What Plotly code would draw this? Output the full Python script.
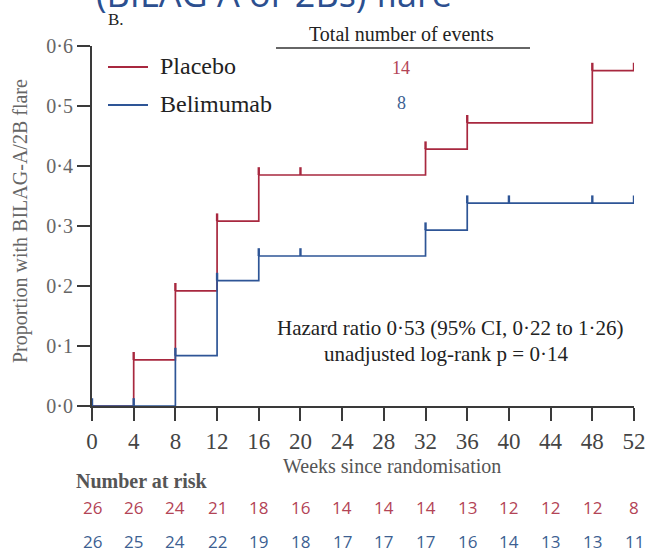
import plotly.graph_objects as go

# ---- data ----
weeks_ticks = [0, 4, 8, 12, 16, 20, 24, 28, 32, 36, 40, 44, 48, 52]

placebo_step_x = [0, 4, 8, 12, 16, 32, 36, 48, 52]
placebo_step_y = [0.0, 0.077, 0.192, 0.308, 0.385, 0.428, 0.472, 0.559, 0.559]
placebo_cens_x = [4, 8, 12, 16, 20, 32, 36, 48, 52]
placebo_cens_y = [0.077, 0.192, 0.308, 0.385, 0.385, 0.428, 0.472, 0.559, 0.559]

belim_step_x = [0, 8, 12, 16, 32, 36, 52]
belim_step_y = [0.0, 0.084, 0.209, 0.25, 0.293, 0.338, 0.338]
belim_cens_x = [0, 4, 8, 12, 16, 20, 32, 36, 40, 48, 52]
belim_cens_y = [0.0, 0.0, 0.084, 0.209, 0.25, 0.25, 0.293, 0.338, 0.338, 0.338, 0.338]

risk_placebo = [26, 26, 24, 21, 18, 16, 14, 14, 14, 13, 12, 12, 12, 8]
risk_belim = [26, 25, 24, 22, 19, 18, 17, 17, 17, 16, 14, 13, 13, 11]

events_placebo = 14
events_belim = 8

RED = "#a8283f"
BLUE = "#2e5596"
RED_TXT = "#b34456"
BLUE_TXT = "#3d5f92"
GRAY = "#3a3a3a"
SERIF = "Liberation Serif, Times New Roman, serif"
SANS = "Open Sans, Liberation Sans, sans-serif"

fig = go.Figure()

fig.add_trace(go.Scatter(x=placebo_step_x, y=placebo_step_y, mode="lines",
                         line=dict(color=RED, width=1.7, shape="hv"),
                         name="Placebo", cliponaxis=False))
fig.add_trace(go.Scatter(x=belim_step_x, y=belim_step_y, mode="lines",
                         line=dict(color=BLUE, width=1.7, shape="hv"),
                         name="Belimumab", cliponaxis=False))

# censor marks (upward ticks)
for cx, cy, col in [(placebo_cens_x, placebo_cens_y, RED), (belim_cens_x, belim_cens_y, BLUE)]:
    fig.add_trace(go.Scatter(x=cx, y=cy, mode="markers",
                             marker=dict(size=1, color=col, opacity=0),
                             error_y=dict(type="data", symmetric=False,
                                          array=[0.013] * len(cy), arrayminus=[0] * len(cy),
                                          width=0, thickness=2.4, color=col),
                             showlegend=False, hoverinfo="skip", cliponaxis=False))

fig.update_layout(
    width=657, height=556,
    margin=dict(l=92, r=23, t=46, b=150, autoexpand=False),
    paper_bgcolor="white", plot_bgcolor="white",
    showlegend=False,
    xaxis=dict(range=[0, 52], tickvals=weeks_ticks, ticks="outside", ticklen=13,
               tickwidth=2, tickcolor=GRAY, showline=True, linecolor=GRAY, linewidth=2,
               showgrid=False, zeroline=False, automargin=False,
               tickfont=dict(family=SERIF, size=23, color="#444")),
    yaxis=dict(range=[0, 0.6], tickvals=[0, 0.1, 0.2, 0.3, 0.4, 0.5, 0.6],
               ticktext=["0·0", "0·1", "0·2", "0·3", "0·4", "0·5", "0·6"],
               ticks="outside", ticklen=13, tickwidth=2, tickcolor=GRAY,
               showline=True, linecolor=GRAY, linewidth=2, showgrid=False, zeroline=False,
               automargin=False,
               tickfont=dict(family=SERIF, size=20, color="#666")),
)

# helpers to convert pixel positions into paper coords
PW, PH = 657 - 92 - 23, 556 - 46 - 150
def px(xp):
    return (xp - 92) / PW
def py(yp):
    return (406 - yp) / PH

shapes = [
    dict(type="line", xref="paper", yref="paper", x0=px(108), x1=px(148), y0=py(67), y1=py(67),
         line=dict(color=RED, width=2)),
    dict(type="line", xref="paper", yref="paper", x0=px(108), x1=px(148), y0=py(105), y1=py(105),
         line=dict(color=BLUE, width=2)),
    dict(type="line", xref="paper", yref="paper", x0=px(276), x1=px(530), y0=py(48), y1=py(48),
         line=dict(color="#333", width=1.5)),
]
fig.update_layout(shapes=shapes)

def ann(x, y, text, size, color, family=SERIF, xanchor="center", yanchor="middle", **kw):
    return dict(xref="paper", yref="paper", x=px(x), y=py(y), xanchor=xanchor, yanchor=yanchor,
                text=text, showarrow=False, font=dict(family=family, size=size, color=color), **kw)

A = []
A.append(ann(158, 66, "Placebo", 24, "#222", xanchor="left"))
A.append(ann(158, 104, "Belimumab", 24, "#222", xanchor="left"))
A.append(ann(401, 34, "Total number of events", 20, "#222"))
A.append(ann(401, 68, str(events_placebo), 18, RED_TXT))
A.append(ann(401, 103, str(events_belim), 18, BLUE_TXT))
A.append(ann(116, 19, "B.", 17, "#222"))
A.append(ann(94, 20, "(BILAG A or 2Bs) flare", 36, "#2c4f8f", family=SANS,
             xanchor="left", yanchor="bottom"))
A.append(ann(450, 328, "Hazard ratio 0·53 (95% CI, 0·22 to 1·26)", 21, "#222"))
A.append(ann(446, 354, "unadjusted log-rank p = 0·14", 21, "#222"))
A.append(ann(20, 221, "Proportion with BILAG-A/2B flare", 20, "#666", textangle=-90))
A.append(ann(392, 466, "Weeks since randomisation", 20, "#555"))
A.append(ann(74, 481, "<b>Number at risk</b>", 20, "#555", xanchor="left"))
for w, r in zip(weeks_ticks, risk_placebo):
    A.append(dict(xref="x", yref="paper", x=w, y=py(508), xanchor="center", yanchor="middle",
                  text=str(r), showarrow=False, font=dict(family=SANS, size=17, color=RED_TXT)))
for w, r in zip(weeks_ticks, risk_belim):
    A.append(dict(xref="x", yref="paper", x=w, y=py(541), xanchor="center", yanchor="middle",
                  text=str(r), showarrow=False, font=dict(family=SANS, size=17, color=BLUE_TXT)))
fig.update_layout(annotations=A)

fig.write_html("out.html", config={"displayModeBar": False},
               post_script="document.body.style.margin='0';")
